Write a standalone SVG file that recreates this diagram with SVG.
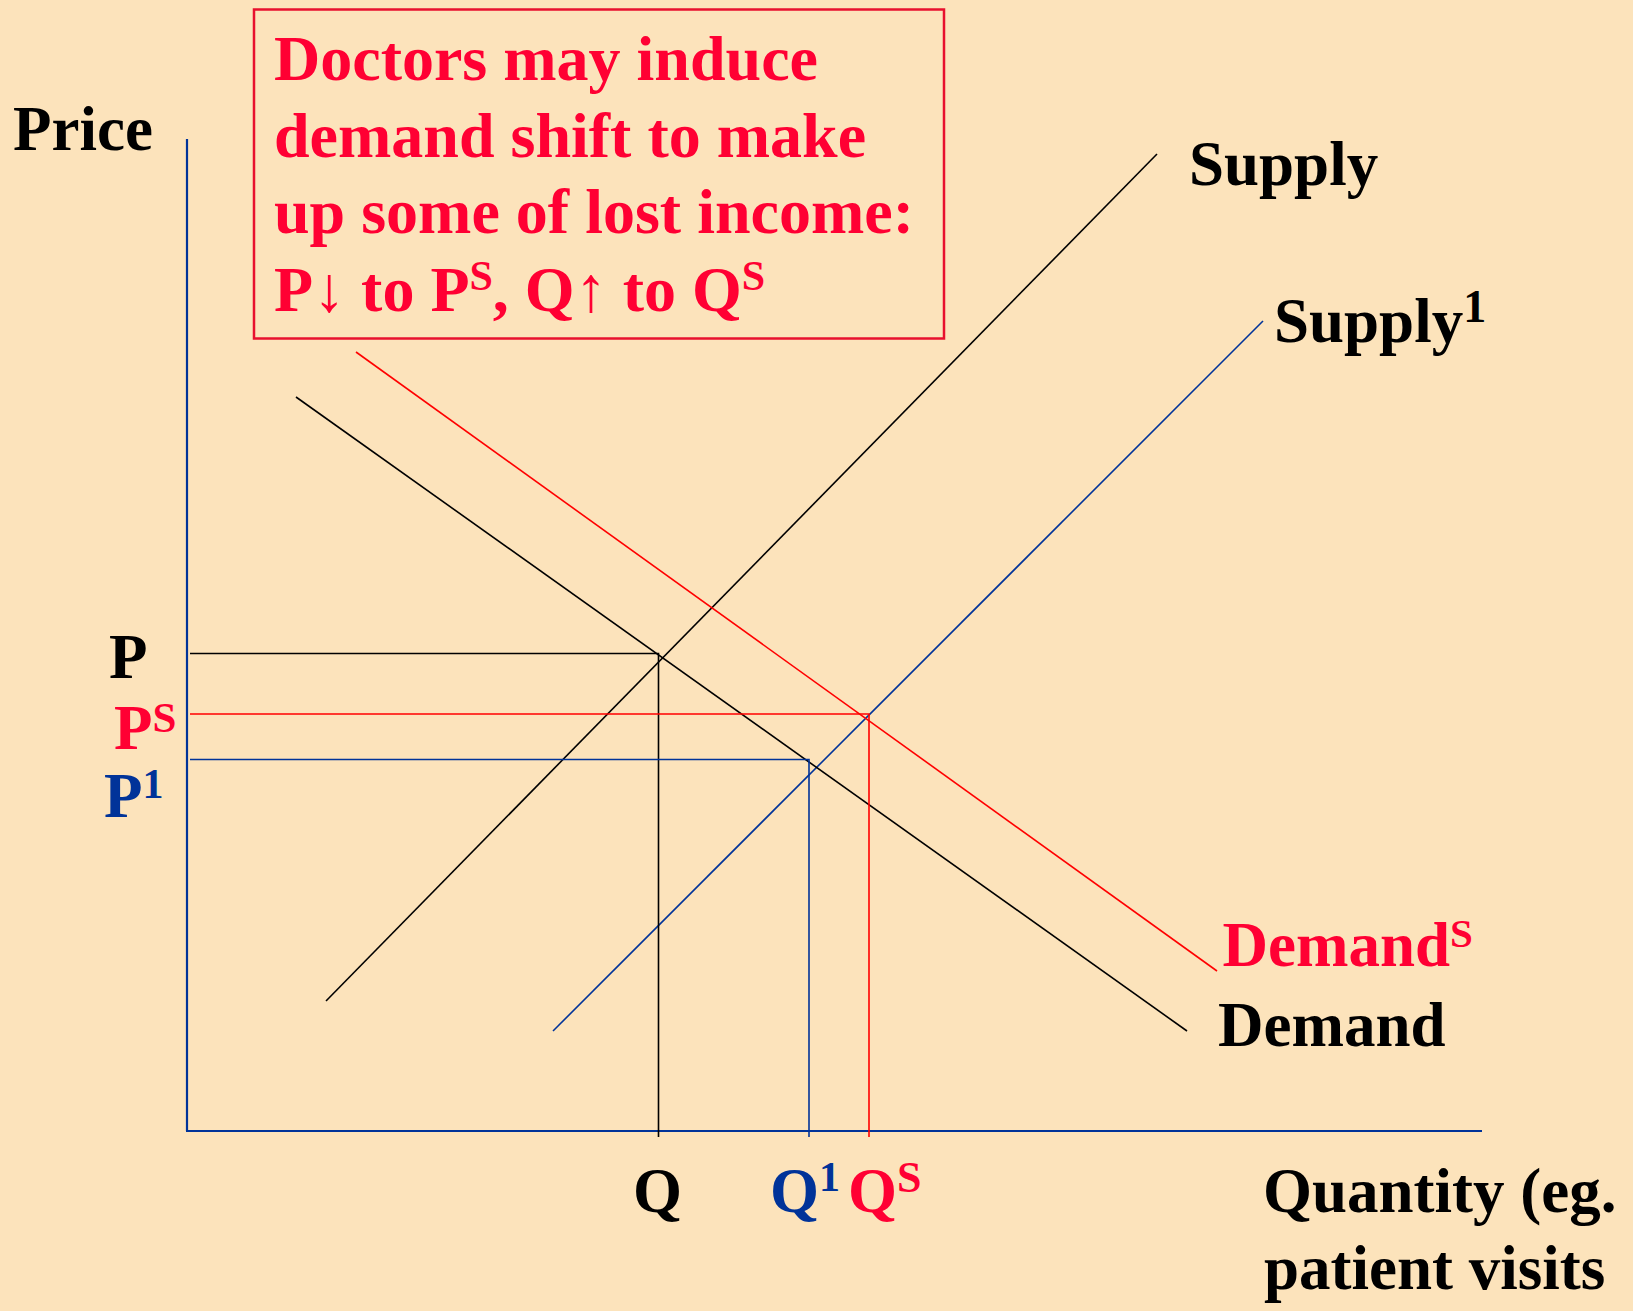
<svg xmlns="http://www.w3.org/2000/svg" width="1633" height="1311" viewBox="0 0 1633 1311">
<style>
text { font-family: "Liberation Serif", "Times New Roman", serif; font-weight: bold; font-size: 63px; }
.blk { fill: #000000; }
.red { fill: #FF0033; }
.blu { fill: #003399; }
.box { font-size: 64px; fill: #FF0033; }
.lk { stroke: #000000; stroke-width: 1.6; fill: none; }
.lr { stroke: #FF0000; stroke-width: 1.6; fill: none; }
.lb { stroke: #003399; stroke-width: 1.6; fill: none; }
.ax { stroke: #003399; stroke-width: 2.2; fill: none; }
</style>
<rect width="1633" height="1311" fill="#FCE3BB"/>

<g id="axes">
  <line class="ax" x1="187" y1="139" x2="187" y2="1131"/>
  <line class="ax" x1="186" y1="1131" x2="1482" y2="1131"/>
</g>

<g id="connectors">
  <line id="supply" class="lk" x1="326" y1="1001" x2="1157" y2="154"/>
  <line id="supply1" class="lb" x1="553" y1="1031" x2="1263" y2="321"/>
  <line id="demand" class="lk" x1="296" y1="397" x2="1187" y2="1031"/>
  <line id="demandS" class="lr" x1="356" y1="352" x2="1217" y2="971"/>
  <polyline class="lk" points="190,653.5 658.5,653.5 658.5,1137"/>
  <polyline class="lr" points="190,714 869,714 869,1137"/>
  <polyline class="lb" points="190,759.5 809,759.5 809,1137"/>
</g>

<g id="note">
  <rect x="254" y="9.5" width="690" height="329" fill="none" stroke="#E8102E" stroke-width="2.5"/>
  <text class="box" x="274" y="80">Doctors may induce</text>
  <text class="box" x="274" y="157">demand shift to make</text>
  <text class="box" x="274" y="233">up some of lost income:</text>
  <text class="box" x="274" y="311">P↓ to P<tspan font-size="42" dy="-21">S</tspan><tspan dy="21">, Q↑ to Q</tspan><tspan font-size="42" dy="-21">S</tspan></text>
</g>

<g id="label-price"><text class="blk" x="13" y="150">Price</text></g>
<g id="label-supply"><text class="blk" x="1189" y="185">Supply</text></g>
<g id="label-supply1"><text class="blk" x="1274" y="341.5">Supply<tspan font-size="46" dy="-20">1</tspan></text></g>
<g id="label-demandS"><text class="red" x="1222.5" y="966">Demand<tspan font-size="41" dy="-19">S</tspan></text></g>
<g id="label-demand"><text class="blk" x="1218" y="1045.5">Demand</text></g>
<g id="label-quantity">
  <text class="blk" x="1263" y="1211.5">Quantity (eg.</text>
  <text class="blk" x="1264" y="1288.5">patient visits</text>
</g>
<g id="label-P"><text class="blk" x="109" y="677.5">P</text></g>
<g id="label-PS"><text class="red" x="114" y="749">P<tspan font-size="43" dy="-17">S</tspan></text></g>
<g id="label-P1"><text class="blu" x="104" y="817">P<tspan font-size="42" dy="-19">1</tspan></text></g>
<g id="label-Q"><text class="blk" x="633" y="1211.5">Q</text></g>
<g id="label-Q1"><text class="blu" x="770" y="1211.5">Q<tspan font-size="42" dy="-21">1</tspan></text></g>
<g id="label-QS"><text class="red" x="848" y="1211.5">Q<tspan font-size="44" dy="-20">S</tspan></text></g>
</svg>
